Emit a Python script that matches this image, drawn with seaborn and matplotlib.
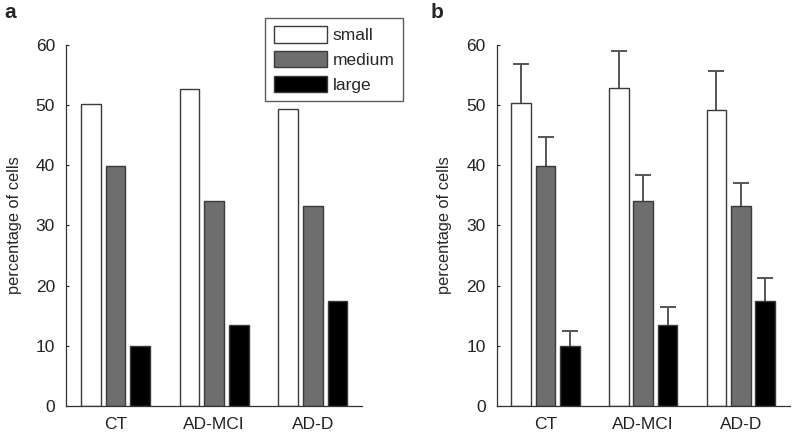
import pandas as pd
import numpy as np
import seaborn as sns
import matplotlib.pyplot as plt

groups = ['CT', 'AD-MCI', 'AD-D']
sizes = ['small', 'medium', 'large']

# panel a: percentages
pct_a = {'small': [50.1, 52.6, 49.3],
         'medium': [39.9, 34.1, 33.2],
         'large': [10.0, 13.5, 17.5]}

# panel b: means and upper error (top of whisker)
pct_b = {'small': [50.3, 52.8, 49.2],
         'medium': [39.8, 34.0, 33.3],
         'large': [10.0, 13.4, 17.5]}
top_b = {'small': [56.8, 58.9, 55.6],
         'medium': [44.7, 38.4, 37.0],
         'large': [12.5, 16.4, 21.3]}

colors = ['#ffffff', '#6e6e6e', '#000000']

sns.set_style("ticks")
plt.rcParams['font.family'] = ['Liberation Sans', 'DejaVu Sans']


def to_long(d):
    rows = []
    for s in sizes:
        for g, v in zip(groups, d[s]):
            rows.append({'group': g, 'size': s, 'value': v})
    return pd.DataFrame(rows)


fig = plt.figure(figsize=(7.96, 4.32), dpi=100)
ax_a = fig.add_axes([0.083, 0.0602, 0.372, 0.836])
ax_b = fig.add_axes([0.624, 0.0602, 0.368, 0.836])

for ax, d in [(ax_a, pct_a), (ax_b, pct_b)]:
    df = to_long(d)
    sns.barplot(data=df, x='group', y='value', hue='size', order=groups,
                hue_order=sizes, palette=colors, width=0.75, gap=0.2,
                edgecolor='#3a3a3a', linewidth=1.0, ax=ax, legend=(ax is ax_a))
    ax.set_ylim(0, 60)
    ax.set_xlim(-0.5, 2.5)
    ax.set_yticks(range(0, 61, 10))
    ax.set_xlabel('')
    ax.set_ylabel('percentage of cells', fontsize=11.8, labelpad=10)
    ax.tick_params(direction='in', length=2.5, labelsize=12.5, width=0.8,
                   colors='#222222', pad=8)
    ax.tick_params(axis='x', length=0, pad=8)
    sns.despine(ax=ax)
    for sp in ['left', 'bottom']:
        ax.spines[sp].set_linewidth(0.9)
        ax.spines[sp].set_color('#333333')

# error bars on panel b (upper only)
bars = [p for p in ax_b.patches if p.get_height() > 0]
for i, s in enumerate(sizes):
    for j, g in enumerate(groups):
        p = bars[i * 3 + j]
        xc = p.get_x() + p.get_width() / 2
        m = pct_b[s][j]
        _, caps, _ = ax_b.errorbar(xc, m, yerr=[[0], [top_b[s][j] - m]],
                                   fmt='none', ecolor='#555555',
                                   elinewidth=1.4, capsize=5.5,
                                   capthick=1.4, zorder=0)
        caps[0].set_visible(False)

leg = ax_a.legend(loc='upper left', bbox_to_anchor=(0.672, 1.075),
                  frameon=True, fancybox=False, edgecolor='#333333',
                  fontsize=12.5, handlelength=3.05, handleheight=1.05,
                  handletextpad=0.35, labelspacing=0.44, borderpad=0.5,
                  borderaxespad=0)
leg.get_frame().set_linewidth(1.0)
leg.set_zorder(10)

fig.text(0.006, 0.972, 'a', fontsize=15, fontweight='bold', va='center')
fig.text(0.541, 0.972, 'b', fontsize=15, fontweight='bold', va='center')

fig.savefig('out.png', dpi=100)
